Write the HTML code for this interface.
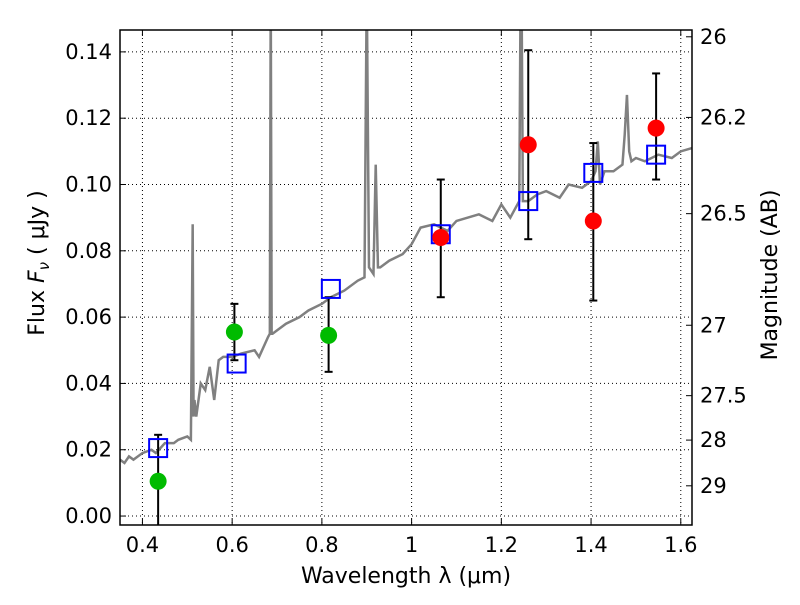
<!DOCTYPE html>
<html><head><meta charset="utf-8"><style>
body{margin:0;background:#fff}
svg text{font-family:"DejaVu Sans","Liberation Sans",sans-serif;fill:#000}
</style></head><body>
<svg id="c" width="800" height="600"></svg>
<script>
const specWave=[0.35,0.36,0.37,0.38,0.40,0.42,0.43,0.45,0.47,0.48,0.50,0.508,0.512,0.514,0.516,0.52,0.53,0.54,0.55,0.56,0.57,0.58,0.60,0.62,0.65,0.66,0.68,0.684,0.686,0.688,0.69,0.70,0.72,0.75,0.77,0.8,0.82,0.85,0.88,0.895,0.9,0.905,0.91,0.915,0.92,0.925,0.93,0.95,0.98,1.0,1.02,1.05,1.08,1.1,1.15,1.18,1.2,1.22,1.24,1.243,1.245,1.248,1.25,1.26,1.28,1.3,1.33,1.35,1.38,1.4,1.41,1.415,1.42,1.43,1.45,1.47,1.475,1.48,1.485,1.49,1.5,1.52,1.55,1.58,1.6,1.625];
const specFlux=[0.017,0.016,0.018,0.017,0.019,0.020,0.019,0.022,0.022,0.023,0.024,0.023,0.088,0.03,0.035,0.030,0.040,0.038,0.045,0.035,0.047,0.048,0.048,0.049,0.050,0.048,0.054,0.055,0.16,0.055,0.055,0.056,0.058,0.060,0.062,0.064,0.066,0.068,0.071,0.072,0.16,0.075,0.074,0.073,0.106,0.075,0.075,0.077,0.079,0.082,0.087,0.088,0.086,0.089,0.091,0.089,0.094,0.090,0.095,0.16,0.16,0.095,0.095,0.095,0.097,0.098,0.096,0.100,0.099,0.101,0.104,0.113,0.100,0.104,0.104,0.106,0.115,0.127,0.110,0.107,0.108,0.107,0.109,0.108,0.110,0.111];
const greenX=[0.435,0.605,0.815], greenY=[0.0105,0.0555,0.0545], greenLo=[-0.01,0.047,0.0435], greenHi=[0.0245,0.064,0.066];
const redX=[1.065,1.26,1.405,1.545], redY=[0.084,0.112,0.089,0.117], redLo=[0.066,0.0835,0.065,0.1015], redHi=[0.1015,0.1405,0.1125,0.1335];
const blueX=[0.435,0.61,0.82,1.065,1.26,1.405,1.545], blueY=[0.0205,0.046,0.0685,0.085,0.095,0.1035,0.109];
const xTicks=[0.4,0.6,0.8,1,1.2,1.4,1.6], xTickLabels=["0.4","0.6","0.8","1","1.2","1.4","1.6"];
const yTicks=[0,0.02,0.04,0.06,0.08,0.1,0.12,0.14], yTickLabels=["0.00","0.02","0.04","0.06","0.08","0.10","0.12","0.14"];
const magTicks=[26,26.2,26.5,27,27.5,28,29], magLabels=["26","26.2","26.5","27","27.5","28","29"];
const L=120,R=692,T=30,B=525,X0=0.35,X1=1.625,Y0=-0.0027,Y1=0.1466;
const sx=v=>L+(v-X0)/(X1-X0)*(R-L), sy=v=>B-(v-Y0)/(Y1-Y0)*(B-T);
const svg=document.getElementById('c'),NS='http://www.w3.org/2000/svg';
function mk(t,a,p){const e=document.createElementNS(NS,t);for(const k in a)e.setAttribute(k,a[k]);(p||svg).appendChild(e);return e;}
const clip=mk('clipPath',{id:'cp'});mk('rect',{x:L,y:T,width:R-L,height:B-T},clip);
xTicks.forEach((v,i)=>{const x=sx(v);
 let g=mk('line',{x1:x,x2:x,y1:T,y2:B,stroke:'#000','stroke-dasharray':'1,3','stroke-width':1});
 
 mk('line',{x1:x,x2:x,y1:B,y2:B-6,stroke:'#000'});mk('line',{x1:x,x2:x,y1:T,y2:T+6,stroke:'#000'});
 let t=mk('text',{x:x,y:B+27,'text-anchor':'middle','font-size':21});t.textContent=xTickLabels[i];
 });
yTicks.forEach((v,i)=>{const y=sy(v);
 let g=mk('line',{x1:L,x2:R,y1:y,y2:y,stroke:'#000','stroke-dasharray':'1,3','stroke-width':1});
 
 mk('line',{x1:L,x2:L+6,y1:y,y2:y,stroke:'#000'});
 let t=mk('text',{x:L-8,y:y+7,'text-anchor':'end','font-size':21});t.textContent=yTickLabels[i];
 });
magTicks.forEach((m,i)=>{const f=3631e6*Math.pow(10,-0.4*m);const y=sy(f);
 mk('line',{x1:R-6,x2:R,y1:y,y2:y,stroke:'#000'});
 let t=mk('text',{x:R+8,y:y+7,'font-size':21});t.textContent=magLabels[i];
 });
const sp=mk('polyline',{points:specWave.map((w,i)=>sx(w)+','+sy(specFlux[i])).join(' '),fill:'none',stroke:'#808080','stroke-width':2.5,'clip-path':'url(#cp)'});

function err(x,lo,hi){const g=mk('g',{'clip-path':'url(#cp)'});
 mk('line',{x1:sx(x),x2:sx(x),y1:sy(lo),y2:sy(hi),stroke:'#000','stroke-width':2},g);
 [lo,hi].forEach(v=>mk('line',{x1:sx(x)-4,x2:sx(x)+4,y1:sy(v),y2:sy(v),stroke:'#000','stroke-width':2},g));
 }
greenX.forEach((x,i)=>err(x,greenLo[i],greenHi[i]));
redX.forEach((x,i)=>err(x,redLo[i],redHi[i]));
blueX.forEach((x,i)=>{let r=mk('rect',{x:sx(x)-9,y:sy(blueY[i])-9,width:18,height:18,fill:'none',stroke:'#0000ff','stroke-width':2});
 });
greenX.forEach((x,i)=>{let c=mk('circle',{cx:sx(x),cy:sy(greenY[i]),r:8.5,fill:'#00bb00'});
 });
redX.forEach((x,i)=>{let c=mk('circle',{cx:sx(x),cy:sy(redY[i]),r:8.5,fill:'#ff0000'});
 });
let fr=mk('rect',{x:L,y:T,width:R-L,height:B-T,fill:'none',stroke:'#000','stroke-width':1.5});

let xt=mk('text',{x:(L+R)/2,y:583,'text-anchor':'middle','font-size':22});xt.textContent='Wavelength  λ (μm)';

let yt=mk('text',{x:0,y:0,'text-anchor':'middle','font-size':22,transform:'translate(44,263) rotate(-90)'});yt.innerHTML='Flux  <tspan font-style="italic">F</tspan><tspan font-size="15" dy="5" font-style="italic">ν</tspan><tspan dy="-5">  ( μJy )</tspan>';

let mt=mk('text',{x:0,y:0,'text-anchor':'middle','font-size':22,transform:'translate(777,275) rotate(-90)'});mt.textContent='Magnitude (AB)';

</script></body></html>
